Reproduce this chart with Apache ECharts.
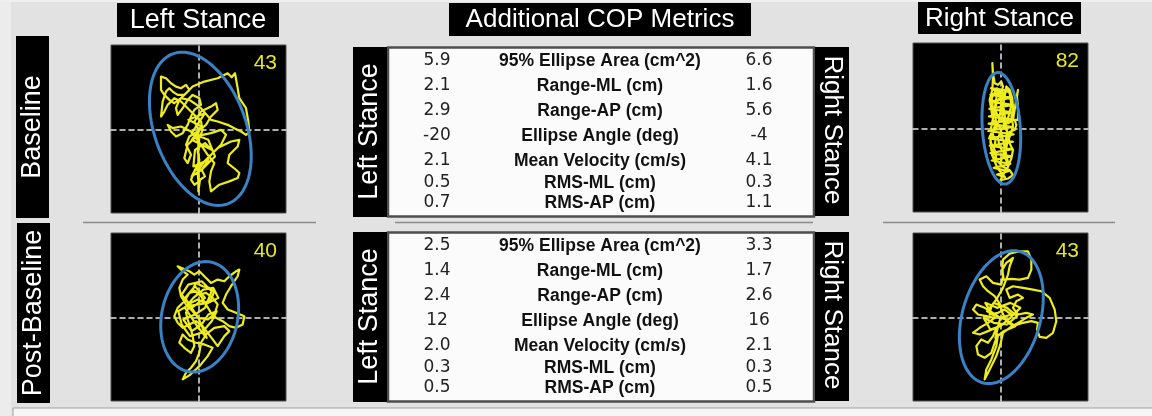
<!DOCTYPE html>
<html><head><meta charset="utf-8">
<script src="https://cdn.jsdelivr.net/npm/echarts@6/dist/echarts.min.js"></script>
<style>html,body{margin:0;padding:0;background:#e2e2e2}#c{width:1152px;height:416px}</style>
</head><body><div id="c"></div>
<script>
// ---------------- DATA ----------------
const metricNames = ['95% Ellipse Area (cm^2)','Range-ML (cm)','Range-AP (cm)','Ellipse Angle (deg)','Mean Velocity (cm/s)','RMS-ML (cm)','RMS-AP (cm)'];
const baselineLeft  = ['5.9','2.1','2.9','-20','2.1','0.5','0.7'];
const baselineRight = ['6.6','1.6','5.6','-4','4.1','0.3','1.1'];
const postLeft      = ['2.5','1.4','2.4','12','2.0','0.3','0.5'];
const postRight     = ['3.3','1.7','2.6','16','2.1','0.3','0.5'];
const scores = [43, 40, 82, 43]; // LB, LP, RB, RP
const columnTitles = ['Left Stance','Additional COP Metrics','Right Stance'];
const rowTitles = ['Baseline','Post-Baseline'];

// ellipse: [centerX, centerY, semiMajor, semiMinor, angleDeg]
const ellipseLB = [6, 3, 240, 137, -20];
const ellipseLP = [4, 3, 168, 114, 12];
const ellipseRB = [3, 0, 167, 57, -4];
const ellipseRP = [3, 2, 205, 117, 16];

const traceLB = [[0,0],[-12,25],[8,55],[38,70],[53,80],[58,60],[38,40],[23,15],[-2,-5],[-27,-20],[-37,-45],[-22,-75],[-32,-100],[-42,-85],[-32,-45],[-12,-25],[13,-15],[38,-10],[68,0],[83,-15],[68,-45],[48,-65],[28,-85],[8,-105],[-12,-125],[-22,-150],[-12,-165],[3,-155],[-2,-125],[18,-95],[38,-75],[58,-55],[78,-45],[98,-35],[123,-30],[118,-50],[93,-75],[88,-100],[113,-120],[123,-130],[118,-145],[93,-155],[63,-165],[38,-185],[33,-155],[38,-125],[48,-100],[28,-75],[8,-45],[-7,-25],[-22,-5],[-52,10],[-77,5],[-92,15],[-82,-5],[-67,-20],[-47,-10],[-32,15],[-22,40],[-12,60],[8,75],[3,95],[-17,105],[-32,90],[-47,65],[-62,45],[-67,65],[-57,90],[-32,115],[-17,130],[18,145],[58,155],[88,170],[93,175],[100,158],[110,170],[118,125],[123,95],[143,65],[150,25],[153,-7],[143,-15],[128,-5],[108,5],[88,15],[58,25],[38,30],[8,65],[-12,80],[-27,90],[-52,95],[-72,80],[-87,90],[-102,105],[-112,120],[-112,160],[-97,155],[-82,140],[-67,130],[-52,125],[-37,135],[-27,120],[-42,105],[-62,105],[-77,115],[-87,125],[-97,115],[-107,85],[-112,40],[-102,55],[-92,75],[-72,95],[-52,85],[-37,70],[-22,55],[-7,40],[8,25],[13,0],[3,-25],[-2,-65],[3,-90],[-2,-125],[0,-155],[0,-185],[5,-150],[20,-140],[10,-120],[30,-90],[-15,-110],[-10,-60],[20,-40],[40,-60],[-20,-30],[10,10],[-30,30],[20,50],[0,20],[-20,-10],[30,-30],[50,-80],[10,-120],[-20,-140],[0,-100],[0,0]];

const traceLP = [[0,0],[-17,20],[-37,40],[-52,65],[-57,90],[-47,115],[-32,130],[-52,145],[-62,155],[-50,150],[-27,140],[-12,130],[3,140],[18,125],[38,105],[58,115],[78,110],[93,125],[113,140],[123,145],[118,125],[98,95],[83,70],[73,45],[88,25],[113,15],[138,5],[133,-20],[113,-30],[93,-25],[73,-10],[53,0],[38,15],[23,40],[8,65],[-7,80],[-27,75],[-42,50],[-62,30],[-72,5],[-62,-15],[-47,-30],[-27,-20],[-7,-10],[13,-25],[28,-45],[43,-65],[58,-85],[78,-55],[93,-40],[78,-25],[48,-30],[23,-50],[8,-75],[3,-105],[-7,-130],[-22,-150],[-37,-165],[-47,-185],[-27,-173],[-7,-155],[8,-140],[28,-115],[43,-90],[18,-80],[-7,-75],[-32,-65],[-47,-50],[-57,-75],[-42,-90],[-22,-105],[-12,-85],[-17,-55],[-22,-35],[-32,-5],[-37,15],[-22,45],[-2,55],[18,45],[38,55],[48,80],[33,90],[13,95],[-7,105],[-17,85],[3,70],[23,75],[43,60],[58,40],[48,10],[28,-5],[0,0],[-40,60],[-10,95],[20,60],[-20,30],[-50,70],[-30,100],[10,110],[40,80],[20,30],[-10,10],[-45,-5],[-20,-40],[10,-20],[30,10],[55,20],[40,-10],[10,-45],[-25,-55],[-50,-20],[-60,20],[-35,35],[0,40],[30,45],[60,60],[45,90],[15,85],[-15,60],[-40,30],[-20,0],[0,-30],[25,-60],[0,0]];

const traceRB = [[0,0],[-22,25],[-27,55],[-32,85],[-24,115],[-22,155],[-24,195],[-22,165],[-17,135],[-7,130],[3,140],[8,125],[0,95],[-12,75],[-17,45],[-12,15],[-22,-5],[-32,-25],[-27,-45],[-17,-65],[-12,-90],[-2,-105],[8,-85],[13,-55],[23,-35],[33,-15],[38,10],[33,35],[38,60],[36,90],[28,115],[18,125],[13,95],[8,65],[6,35],[13,5],[23,-15],[28,-45],[38,-65],[33,-90],[23,-115],[8,-140],[0,-155],[23,-150],[38,-140],[28,-125],[8,-115],[-7,-100],[-20,-85],[-27,-65],[-30,-40],[-24,-15],[-12,0],[-4,25],[0,50],[3,80],[8,105],[18,115],[28,105],[33,70],[26,40],[18,15],[3,-5],[-7,-30],[-2,-55],[8,-70],[18,-60],[23,-30],[28,-10],[43,-5],[48,10],[43,25],[53,25],[53,60],[50,95],[53,115],[48,90],[43,55],[38,25],[23,15],[8,20],[-7,35],[-17,60],[-12,90],[-7,115],[0,105],[-28,120],[30,112],[-30,100],[35,92],[-32,80],[38,70],[-33,58],[36,48],[-34,36],[40,26],[-35,14],[38,4],[-36,-8],[40,-18],[-34,-30],[38,-40],[-32,-52],[36,-62],[-30,-74],[34,-84],[-26,-96],[30,-106],[-20,-118],[24,-128],[-10,-138],[14,-146],[-8,-120],[-25,-80],[-15,-40],[-28,0],[-20,40],[-26,90],[-10,120],[10,60],[20,-10],[10,-80],[25,-110],[0,0]];

const traceRP = [[0,0],[-22,15],[-47,30],[-72,40],[-82,25],[-67,10],[-42,5],[-17,0],[-37,-15],[-62,-30],[-82,-45],[-62,-50],[-37,-40],[-12,-30],[-22,-55],[-37,-75],[-57,-65],[-72,-85],[-67,-110],[-47,-120],[-27,-105],[-17,-75],[-7,-50],[-12,-85],[-27,-125],[-42,-155],[-47,-185],[-32,-155],[-12,-115],[0,-80],[8,-45],[28,-30],[53,-15],[78,0],[98,10],[78,15],[53,10],[38,30],[48,50],[68,60],[53,70],[28,60],[18,85],[38,95],[68,90],[98,85],[123,80],[148,60],[163,25],[168,-10],[158,-45],[138,-60],[118,-57],[110,-35],[113,-15],[93,-10],[68,-15],[38,-25],[18,-10],[6,15],[0,40],[-17,65],[-37,80],[-52,95],[-62,115],[-42,125],[-22,105],[3,100],[8,125],[6,155],[8,175],[28,193],[58,200],[83,200],[93,175],[93,145],[83,120],[58,115],[33,117],[10,115],[6,145],[18,165],[38,180],[28,155],[23,130],[8,90],[-12,55],[-27,35],[-32,10],[-7,15],[13,25],[33,10],[0,0],[-40,20],[-20,45],[20,30],[50,5],[20,-20],[-20,-15],[-50,0],[-30,-35],[0,-25],[30,0],[60,30],[30,45],[-10,30],[-45,45],[-25,10],[15,-5],[45,-25],[10,-40],[-15,-60],[0,0]];

// ---------------- LAYOUT ----------------
const FONT = '"Liberation Sans", Arial, sans-serif';
const VFONT = '"DejaVu Sans", Verdana, sans-serif';
const plots = [
  {left:111, top:45,  width:175, height:168, trace:traceLB, ell:ellipseLB, score:scores[0]},
  {left:111, top:233, width:175, height:168, trace:traceLP, ell:ellipseLP, score:scores[1]},
  {left:913, top:43,  width:175, height:169, trace:traceRB, ell:ellipseRB, score:scores[2]},
  {left:913, top:233, width:175, height:168, trace:traceRP, ell:ellipseRP, score:scores[3]}
];
const rowOffsets = [14, 39, 64, 89, 114, 136, 156];

const grids = [], xAxes = [], yAxes = [], series = [];
const dashLine = {show:true, onZero:true, lineStyle:{color:'#e6e6e6', width:1.5, type:[5,4]}};
plots.forEach((p, i) => {
  grids.push({left:p.left, top:p.top, width:p.width, height:p.height, show:true,
    backgroundColor:'#000', borderColor:'#505050', borderWidth:1, containLabel:false});
  xAxes.push({gridIndex:i, type:'value', min:-262, max:263, axisLine:dashLine,
    axisTick:{show:false}, axisLabel:{show:false}, splitLine:{show:false}});
  yAxes.push({gridIndex:i, type:'value', min:-250, max:255, axisLine:dashLine,
    axisTick:{show:false}, axisLabel:{show:false}, splitLine:{show:false}});
  series.push({type:'line', xAxisIndex:i, yAxisIndex:i, data:p.trace, symbol:'none',
    lineStyle:{color:'#ecec1e', width:2.2, join:'round'}, silent:true, animation:false, z:3});
  series.push({type:'custom', xAxisIndex:i, yAxisIndex:i, data:[p.ell], silent:true, animation:false, z:4,
    renderItem:function(params, api){
      const cx = api.value(0), cy = api.value(1), a = api.value(2), b = api.value(3);
      const ang = api.value(4) * Math.PI / 180;
      const pts = [];
      for (let k = 0; k < 120; k++) {
        const t = k / 120 * 2 * Math.PI;
        const x = cx + a*Math.cos(t)*Math.sin(ang) + b*Math.sin(t)*Math.cos(ang);
        const y = cy + a*Math.cos(t)*Math.cos(ang) - b*Math.sin(t)*Math.sin(ang);
        pts.push(api.coord([x, y]));
      }
      return {type:'polygon', shape:{points:pts}, style:{fill:'none', stroke:'#3a82c6', lineWidth:3}};
    }});
});

const G = [];
function rect(x,y,w,h,fill,stroke,lw,z){ G.push({type:'rect', shape:{x,y,width:w,height:h}, style:{fill, stroke:stroke||null, lineWidth:lw||0}, z:z||1, silent:true}); }
function line(x1,y1,x2,y2,color,w){ G.push({type:'line', shape:{x1,y1,x2,y2}, style:{stroke:color, lineWidth:w}, z:1, silent:true}); }
function text(x,y,str,font,fill,rot,align){ G.push({type:'text', x, y, rotation:rot||0, z:20, silent:true,
  style:{text:str, x:0, y:0, font, fill, textAlign:align||'center', align:align||'center', textVerticalAlign:'middle', verticalAlign:'middle'}}); }

// frame
rect(0,0,11,416,'#ececec');
rect(0,0,1152,2,'#efefef');
rect(13,408,1145,12,'#f6f6f6','#a0a0a0',1);

// column titles
rect(117,3,162,34,'#000'); text(198,20.5,columnTitles[0],'27px '+FONT,'#fff');
rect(449,3,302,33,'#000'); text(600,20,columnTitles[1],'26px '+FONT,'#fff');
rect(918,2,163,32,'#000'); text(999.5,18.5,columnTitles[2],'26px '+FONT,'#fff');

// row titles (vertical)
rect(16,36,33,182,'#000'); text(32.5,127,rowTitles[0],'27px '+FONT,'#fff',Math.PI/2);
rect(17,223,33,180,'#000'); text(33.5,313,rowTitles[1],'27px '+FONT,'#fff',Math.PI/2);

// separators
line(83,222.5,316,222.5,'#8a8a8a',1.5);
line(395,222.5,813,222.5,'#8a8a8a',1.5);
line(883,222.5,1115,222.5,'#8a8a8a',1.5);

// tables
function table(top, leftVals, rightVals){
  rect(388,top+0.5,426,169,'#fbfbfb','#4e4e4e',2.5);
  rect(353,top,34,170,'#000',null,0,2); text(370,top+84.5,'Left Stance','27px '+FONT,'#fff',Math.PI/2);
  rect(815,top,34,169,'#000',null,0,2); text(832,top+83,'Right Stance','26px '+FONT,'#fff',-Math.PI/2);
  metricNames.forEach((m, r) => {
    const y = top + rowOffsets[r];
    text(437, y, leftVals[r], '17px '+VFONT, '#222');
    text(600, y, m, 'bold 17.5px '+FONT, '#111');
    text(759, y, rightVals[r], '17px '+VFONT, '#222');
  });
}
table(47, baselineLeft, baselineRight);
table(232, postLeft, postRight);

// scores
plots.forEach(p => text(p.left+166, p.top+18.5, String(p.score), '21px '+FONT, '#e8e81a', 0, 'right'));

const chart = echarts.init(document.getElementById('c'), null, {renderer:'canvas'});
chart.setOption({
  backgroundColor:'#e2e2e2',
  animation:false,
  grid:grids, xAxis:xAxes, yAxis:yAxes, series:series,
  graphic:{elements:G}
});
</script></body></html>
